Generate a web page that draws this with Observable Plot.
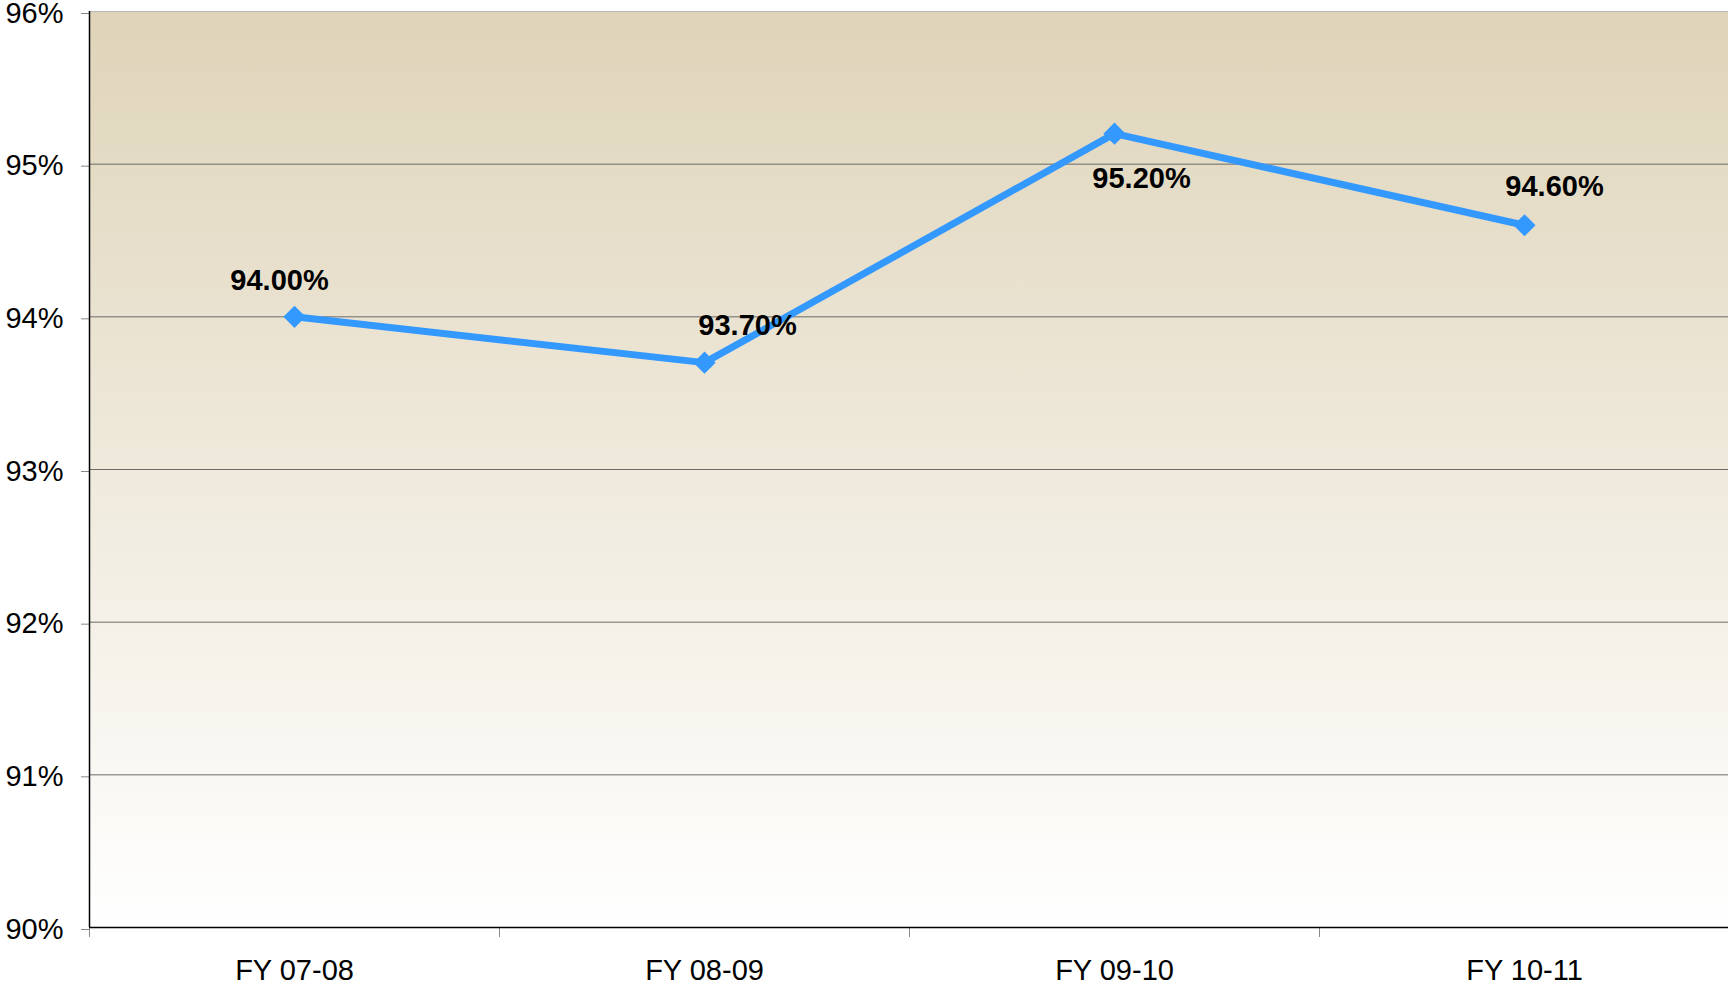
<!DOCTYPE html>
<html>
<head>
<meta charset="utf-8">
<script src="https://cdn.jsdelivr.net/npm/d3@7"></script>
<script src="https://cdn.jsdelivr.net/npm/@observablehq/plot@0.6"></script>
<style>
  html, body { margin: 0; padding: 0; background: #ffffff; overflow: hidden; }
  #chart { width: 1728px; height: 989px; }
</style>
</head>
<body>
<div id="chart"></div>
<script>
// ---- data ----
const categories = ["FY 07-08", "FY 08-09", "FY 09-10", "FY 10-11"];
const values = [94.0, 93.7, 95.2, 94.6];
const valueLabels = ["94.00%", "93.70%", "95.20%", "94.60%"];
const yTicks = [90, 91, 92, 93, 94, 95, 96];

// ---- label placement (style config, separate from data) ----
const labelOffsets = [[-15, -36], [43, -37], [27, 45], [30, -39]];

const rows = categories.map((c, i) => ({ i: i + 0.5, category: c, value: values[i], label: valueLabels[i] }));
const catTicks = categories.map((c, i) => i + 0.5);
const boundaryTicks = d3.range(categories.length + 1);

const font = "'Liberation Sans', Arial, Helvetica, sans-serif";

const labelMarks = rows.map((r, k) => Plot.text([r], {
  x: "i", y: "value", text: "label",
  dx: labelOffsets[k][0], dy: labelOffsets[k][1],
  fontSize: 29, fontWeight: "bold", fill: "#000", fontFamily: font
}));

const plot = Plot.plot({
  width: 1728,
  height: 989,
  marginTop: 11,
  marginBottom: 62,
  marginLeft: 89,
  marginRight: 0,
  style: { fontFamily: font, background: "transparent", overflow: "hidden" },
  x: { domain: [0, categories.length], range: [89, 1729] },
  y: { domain: [90, 96] },
  marks: [
    Plot.frame({ fill: "url(#bgGrad)", stroke: null }),
    Plot.ruleY(yTicks.filter(t => t > 90 && t < 96), { stroke: "#6a6a6a", strokeWidth: 1 }),
    Plot.ruleY([96], { stroke: "#b8b8b8", strokeWidth: 1 }),
    Plot.axisY({ ticks: yTicks, tickFormat: d => d + "%", tickSize: 8, tickPadding: 18, dy: 2,
      fontSize: 29, fill: "#000", stroke: "#888", label: null }),
    Plot.axisX({ ticks: boundaryTicks, tickFormat: () => "", tickSize: 10, stroke: "#888", label: null }),
    Plot.axisX({ ticks: catTicks, tickFormat: d => categories[Math.round(d - 0.5)], tickSize: 0,
      tickPadding: 32, fontSize: 29, fill: "#000", label: null }),
    Plot.ruleY([90], { stroke: "#000", strokeWidth: 1.5 }),
    Plot.ruleX([0], { stroke: "#000", strokeWidth: 1.5 }),
    Plot.line(rows, { x: "i", y: "value", stroke: "#3399ff", strokeWidth: 7, strokeLinejoin: "miter" }),
    Plot.dot(rows, { x: "i", y: "value", symbol: "diamond2", r: 10, fill: "#3399ff", stroke: null }),
    ...labelMarks
  ]
});

// gradient definition for the plot background
const svg = d3.select(plot);
const defs = svg.insert("defs", ":first-child");
const grad = defs.append("linearGradient")
  .attr("id", "bgGrad").attr("x1", 0).attr("y1", 0).attr("x2", 0).attr("y2", 1);
grad.append("stop").attr("offset", "0%").attr("stop-color", "#dfd4b9");
grad.append("stop").attr("offset", "100%").attr("stop-color", "#ffffff");

document.getElementById("chart").appendChild(plot);
</script>
</body>
</html>
